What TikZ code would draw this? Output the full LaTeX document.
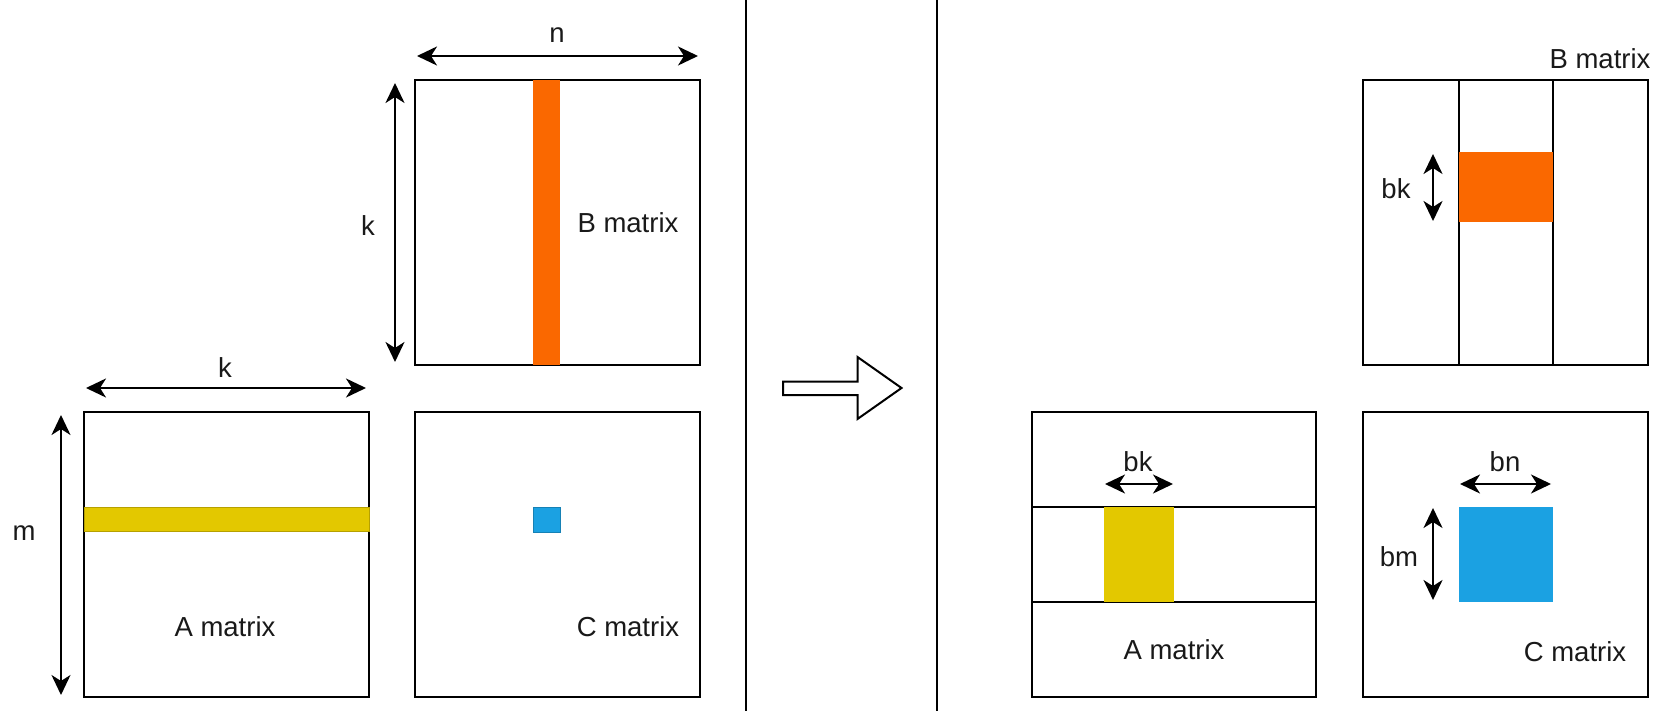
\documentclass[tikz,border=0pt]{standalone}
\usepackage{fontspec}
\setmainfont{Liberation Sans}
\usetikzlibrary{arrows.meta}
\definecolor{orng}{HTML}{FA6800}
\definecolor{ylw}{HTML}{E3C800}
\definecolor{blu}{HTML}{1BA1E2}
\begin{document}
\begin{tikzpicture}[x=1pt,y=-1pt,
  mbox/.style={draw=black,line width=2pt,rectangle,inner sep=0pt},
  blk/.style={rectangle,inner sep=0pt,draw=none},
  dim/.style={line width=2.2pt,{Stealth[length=20pt,width=19pt,inset=6pt]}-{Stealth[length=20pt,width=19pt,inset=6pt]}},
  lbl/.style={font=\fontsize{27.5}{32}\selectfont,inner sep=0pt,text=black!90},
  sep/.style={line width=1.5pt,draw=black},
  inner/.style={line width=2pt,draw=black}]
\useasboundingbox (0,0) rectangle (1675,711);

% dividers
\draw[sep] (746,0) -- (746,711);
\draw[sep] (937,0) -- (937,711);

% ---------- left panel ----------
\node[mbox,minimum width=285pt,minimum height=285pt] (Bl) at (557.5,222.5) {};
\node[blk,fill=orng,minimum width=27pt,minimum height=285pt] (Bstrip) at (546.5,222.5) {};
\node[mbox,minimum width=285pt,minimum height=285pt] (Al) at (226.5,554.5) {};
\node[blk,fill=ylw,draw=ylw!80!black,line width=0.6pt,minimum width=285pt,minimum height=24pt] (Astrip) at (226.5,519) {};
\node[mbox,minimum width=285pt,minimum height=285pt] (Cl) at (557.5,554.5) {};
\node[blk,fill=blu,draw=blu!80!black,line width=0.6pt,minimum width=27pt,minimum height=25pt] (Csq) at (546.5,519.5) {};

\coordinate (nL) at (417,56);  \coordinate (nR) at (698,56);
\draw[dim] (nL) -- (nR);
\node[lbl] (nlab) at (557,35) {n};
\coordinate (kT) at (395,83);  \coordinate (kB) at (395,362);
\draw[dim] (kT) -- (kB);
\node[lbl] (klab) at (368,226) {k};
\coordinate (k2L) at (86,388); \coordinate (k2R) at (366,388);
\draw[dim] (k2L) -- (k2R);
\node[lbl] (k2lab) at (225,368) {k};
\coordinate (mT) at (61,415);  \coordinate (mB) at (61,695);
\draw[dim] (mT) -- (mB);
\node[lbl] (mlab) at (24,533) {m};

\node[lbl] (Bltxt) at (628,223) {B matrix};
\node[lbl] (Altxt) at (225,627) {A matrix};
\node[lbl] (Cltxt) at (628,627) {C matrix};

% ---------- transition arrow ----------
\draw[line width=2pt,draw=black,fill=white,line join=miter]
  (783,381.5) -- (857.5,381.5) -- (857.5,357) -- (901.5,388) -- (857.5,419)
  -- (857.5,395) -- (783,395) -- cycle;

% ---------- right panel ----------
\node[mbox,minimum width=285pt,minimum height=285pt] (Br) at (1505.5,222.5) {};
\draw[inner] (1458.5,80) -- (1458.5,365);
\draw[inner] (1553,80) -- (1553,365);
\node[blk,fill=orng,minimum width=94.5pt,minimum height=70pt] (Bblk) at (1505.75,187) {};
\coordinate (bk1T) at (1433,154); \coordinate (bk1B) at (1433,221);
\draw[dim] (bk1T) -- (bk1B);
\node[lbl] (bk1lab) at (1396,189) {bk};
\node[lbl] (Brtxt) at (1600,59) {B matrix};

\node[mbox,minimum width=284pt,minimum height=285pt] (Ar) at (1174,554.5) {};
\draw[inner] (1032,507) -- (1316,507);
\draw[inner] (1032,602) -- (1316,602);
\node[blk,fill=ylw,minimum width=70pt,minimum height=95pt] (Ablk) at (1139,554.5) {};
\coordinate (bk2L) at (1105,484); \coordinate (bk2R) at (1173,484);
\draw[dim] (bk2L) -- (bk2R);
\node[lbl] (bk2lab) at (1138,462) {bk};
\node[lbl] (Artxt) at (1174,650) {A matrix};

\node[mbox,minimum width=285pt,minimum height=285pt] (Cr) at (1505.5,554.5) {};
\node[blk,fill=blu,minimum width=94.5pt,minimum height=95pt] (Cblk) at (1505.75,554.5) {};
\coordinate (bnL) at (1460,484); \coordinate (bnR) at (1551,484);
\draw[dim] (bnL) -- (bnR);
\node[lbl] (bnlab) at (1505,462) {bn};
\coordinate (bmT) at (1433,508); \coordinate (bmB) at (1433,600);
\draw[dim] (bmT) -- (bmB);
\node[lbl] (bmlab) at (1399,557) {bm};
\node[lbl] (Crtxt) at (1575,652) {C matrix};
\end{tikzpicture}
\end{document}
